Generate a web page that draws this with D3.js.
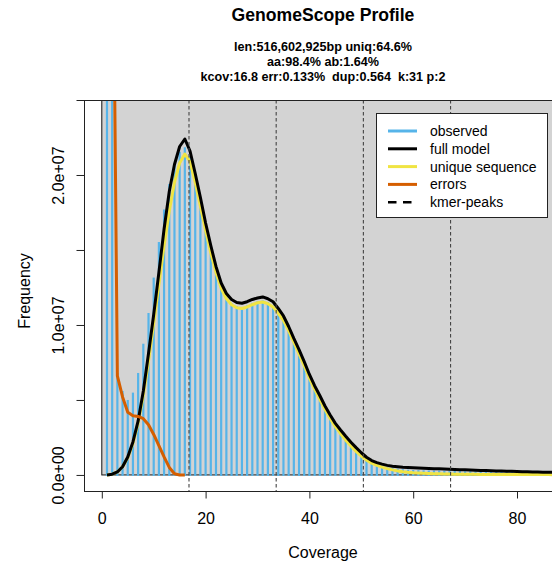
<!DOCTYPE html>
<html>
<head>
<meta charset="utf-8">
<script src="https://cdn.jsdelivr.net/npm/d3@7"></script>
<style>
  html, body { margin: 0; padding: 0; background: #fff; }
  svg { display: block; font-family: "Liberation Sans", Arial, Helvetica, sans-serif; }
</style>
</head>
<body>
<svg id="chart" width="552" height="561"></svg>
<script>
// ---------------- data (frequency values in units of 1e7, coverage = index + 1) ----------------
const titleText = "GenomeScope Profile";
const subtitleLines = [
  "len:516,602,925bp uniq:64.6%",
  "aa:98.4% ab:1.64%",
  "kcov:16.8 err:0.133%  dup:0.564  k:31 p:2"
];
const observed = [
  20, 4.5, 0.68, 0.56, 0.50, 0.549, 0.68, 0.875, 1.08, 1.316,
  1.553, 1.77, 1.94, 2.075, 2.155, 2.185, 2.125, 1.97, 1.80, 1.645,
  1.495, 1.365, 1.26, 1.19, 1.145, 1.125, 1.12, 1.13, 1.145, 1.158,
  1.163, 1.152, 1.13, 1.088, 1.04, 0.972, 0.895, 0.818, 0.738, 0.656,
  0.582, 0.515, 0.447, 0.387, 0.332, 0.285, 0.242, 0.203, 0.167, 0.136,
  0.109, 0.089, 0.074, 0.062, 0.054, 0.047, 0.042, 0.038, 0.035, 0.033,
  0.032, 0.031, 0.030, 0.029, 0.029, 0.028, 0.027, 0.027, 0.026, 0.025,
  0.025, 0.024, 0.024, 0.023, 0.023, 0.022, 0.022, 0.021, 0.021, 0.020,
  0.020, 0.020, 0.019, 0.019, 0.019, 0.018, 0.018, 0.018, 0.017, 0.017
];
const fullModel = [
  0.00, 0.005, 0.02, 0.055, 0.12, 0.22, 0.36, 0.56, 0.81, 1.07,
  1.35, 1.64, 1.89, 2.07, 2.19, 2.24, 2.16, 2.01, 1.85, 1.68,
  1.53, 1.39, 1.28, 1.21, 1.17, 1.15, 1.145, 1.155, 1.17, 1.18,
  1.187, 1.175, 1.155, 1.11, 1.06, 0.99, 0.91, 0.835, 0.755, 0.67,
  0.595, 0.53, 0.46, 0.40, 0.344, 0.30, 0.258, 0.218, 0.182, 0.148,
  0.118, 0.096, 0.082, 0.072, 0.064, 0.058, 0.055, 0.052, 0.050, 0.048,
  0.0465, 0.045, 0.0435, 0.042, 0.041, 0.040, 0.0385, 0.037, 0.0355, 0.034,
  0.0325, 0.031, 0.030, 0.029, 0.028, 0.027, 0.026, 0.025, 0.024, 0.023,
  0.022, 0.021, 0.020, 0.019, 0.0185, 0.018, 0.0175, 0.017, 0.0165, 0.016
];
const uniqueSeq = [
  0.00, 0.005, 0.02, 0.055, 0.115, 0.21, 0.345, 0.53, 0.76, 1.01,
  1.27, 1.53, 1.76, 1.95, 2.08, 2.14, 2.09, 1.95, 1.79, 1.63,
  1.48, 1.35, 1.245, 1.175, 1.135, 1.115, 1.11, 1.12, 1.135, 1.148,
  1.153, 1.142, 1.12, 1.078, 1.03, 0.962, 0.885, 0.808, 0.728, 0.646,
  0.572, 0.505, 0.437, 0.377, 0.322, 0.275, 0.232, 0.193, 0.157, 0.126,
  0.099, 0.079, 0.064, 0.052, 0.042, 0.034, 0.027, 0.022, 0.018, 0.015,
  0.013, 0.011, 0.0095, 0.0085, 0.0075, 0.0068, 0.006, 0.0055, 0.005, 0.0046,
  0.0043, 0.004, 0.0038, 0.0036, 0.0034, 0.0032, 0.003, 0.0029, 0.0028, 0.0027,
  0.0026, 0.0025, 0.0024, 0.0023, 0.0022, 0.0022, 0.0021, 0.0021, 0.002, 0.002
];
const errors = [
  20, 4.35, 0.66, 0.52, 0.418, 0.395, 0.39, 0.375, 0.335, 0.27,
  0.195, 0.12, 0.05, 0.008, 0.0, 0.0
];
const kmerPeaks = [16.8, 33.6, 50.4, 67.2];
const xTicks = [0, 20, 40, 60, 80];
const yTicks = [0, 0.5, 1.0, 1.5, 2.0, 2.5];
const yTickLabels = ["0.0e+00", "", "1.0e+07", "", "2.0e+07", ""];
const legendItems = [
  { label: "observed", color: "#56B4E9", dash: null },
  { label: "full model", color: "#000000", dash: null },
  { label: "unique sequence", color: "#F0E442", dash: null },
  { label: "errors", color: "#D55E00", dash: null },
  { label: "kmer-peaks", color: "#000000", dash: "8.5,6.5" }
];

// ---------------- layout ----------------
const svg = d3.select("#chart");
const box = { left: 84, right: 562, top: 100, bottom: 491 };
const x = d3.scaleLinear().domain([-3.43, 88.67]).range([box.left, box.right]);
const y = d3.scaleLinear().domain([-0.107, 2.5]).range([box.bottom, box.top]);
const cov = i => i + 1;

svg.append("defs").append("clipPath").attr("id", "clip")
  .append("rect").attr("x", box.left).attr("y", box.top)
  .attr("width", box.right - box.left).attr("height", box.bottom - box.top);

const plot = svg.append("g").attr("clip-path", "url(#clip)");

// background rectangle with a thin black border (left edge at x = 0, bottom at y = 0)
plot.append("rect")
  .attr("x", x(0)).attr("y", y(3.0))
  .attr("width", x(x.domain()[1]) + 20 - x(0)).attr("height", y(0) - y(3.0))
  .attr("fill", "#D3D3D3").attr("stroke", "#111").attr("stroke-width", 1);

// observed histogram bars
plot.append("g").selectAll("line").data(observed).join("line")
  .attr("x1", (d, i) => x(cov(i))).attr("x2", (d, i) => x(cov(i)))
  .attr("y1", y(0) + 1).attr("y2", d => y(d))
  .attr("stroke", "#56B4E9").attr("stroke-width", 2.2);

const line = d3.line().x((d, i) => x(cov(i))).y(d => y(d));

plot.append("path").datum(uniqueSeq).attr("d", line)
  .attr("fill", "none").attr("stroke", "#F0E442").attr("stroke-width", 3).attr("stroke-linejoin", "round");
plot.append("path").datum(fullModel).attr("d", line)
  .attr("fill", "none").attr("stroke", "#000").attr("stroke-width", 3).attr("stroke-linejoin", "round");
plot.append("path").datum(errors).attr("d", line)
  .attr("fill", "none").attr("stroke", "#D55E00").attr("stroke-width", 3).attr("stroke-linejoin", "round");

// kmer peak lines
plot.append("g").selectAll("line").data(kmerPeaks).join("line")
  .attr("x1", d => x(d)).attr("x2", d => x(d))
  .attr("y1", box.top).attr("y2", box.bottom)
  .attr("stroke", "#444").attr("stroke-width", 1.1)
  .attr("stroke-dasharray", "3.5,2.5");

// box
svg.append("rect")
  .attr("x", box.left + 0.5).attr("y", box.top + 0.5)
  .attr("width", box.right - box.left).attr("height", box.bottom - box.top)
  .attr("fill", "none").attr("stroke", "#222").attr("stroke-width", 1);

// axes
const xAxis = svg.append("g").attr("transform", `translate(0,${box.bottom + 0.5})`)
  .call(d3.axisBottom(x).tickValues(xTicks).tickSize(7).tickSizeOuter(0).tickFormat(d3.format("d")));
xAxis.select(".domain").attr("d", `M${x(0)},0H${x(80)}`).attr("stroke", "#222");
xAxis.selectAll(".tick line").attr("stroke", "#222");
xAxis.selectAll(".tick text").attr("y", 27).attr("dy", "0.35em")
  .attr("font-size", 16).attr("fill", "#000").attr("font-family", null);

const yAxis = svg.append("g").attr("transform", `translate(${box.left + 0.5},0)`)
  .call(d3.axisLeft(y).tickValues(yTicks).tickSize(8).tickSizeOuter(0)
    .tickFormat((d, i) => yTickLabels[i]));
yAxis.select(".domain").attr("d", `M0,${y(0)}V${y(2.5)}`).attr("stroke", "#222");
yAxis.selectAll(".tick line").attr("stroke", "#222");
yAxis.selectAll(".tick text")
  .attr("x", 0).attr("y", 0).attr("dy", "0.35em")
  .attr("transform", "translate(-26,0) rotate(-90)")
  .attr("text-anchor", "middle")
  .attr("font-size", 16).attr("fill", "#000").attr("font-family", null);

// axis titles
svg.append("text").attr("x", 323).attr("y", 552).attr("dy", "0.35em")
  .attr("text-anchor", "middle").attr("font-size", 16).text("Coverage");
svg.append("text").attr("transform", "translate(24.5,291) rotate(-90)").attr("dy", "0.35em")
  .attr("text-anchor", "middle").attr("font-size", 16).text("Frequency");

// titles
svg.append("text").attr("x", 323).attr("y", 15).attr("dy", "0.35em")
  .attr("text-anchor", "middle").attr("font-size", 17.6).attr("font-weight", "bold").text(titleText);
svg.append("g").selectAll("text").data(subtitleLines).join("text")
  .attr("x", 323).attr("y", (d, i) => 46.5 + i * 15).attr("dy", "0.35em")
  .attr("text-anchor", "middle").attr("font-size", 12.6).attr("font-weight", "bold")
  .style("white-space", "pre").attr("xml:space", "preserve").text(d => d);

// legend
const lg = svg.append("g");
lg.append("rect").attr("x", 376.5).attr("y", 113.5).attr("width", 171).attr("height", 104)
  .attr("fill", "#fff").attr("stroke", "#222").attr("stroke-width", 1);
const items = lg.selectAll("g.item").data(legendItems).join("g").attr("class", "item")
  .attr("transform", (d, i) => `translate(0,${131 + i * 17.8})`);
items.append("line").attr("x1", 388).attr("x2", 417).attr("y1", 0).attr("y2", 0)
  .attr("stroke", d => d.color).attr("stroke-width", d => d.dash ? 2.5 : 3)
  .attr("stroke-dasharray", d => d.dash);
items.append("text").attr("x", 430).attr("y", 0).attr("dy", "0.35em")
  .attr("font-size", 14).attr("fill", "#000").text(d => d.label);
</script>
</body>
</html>
